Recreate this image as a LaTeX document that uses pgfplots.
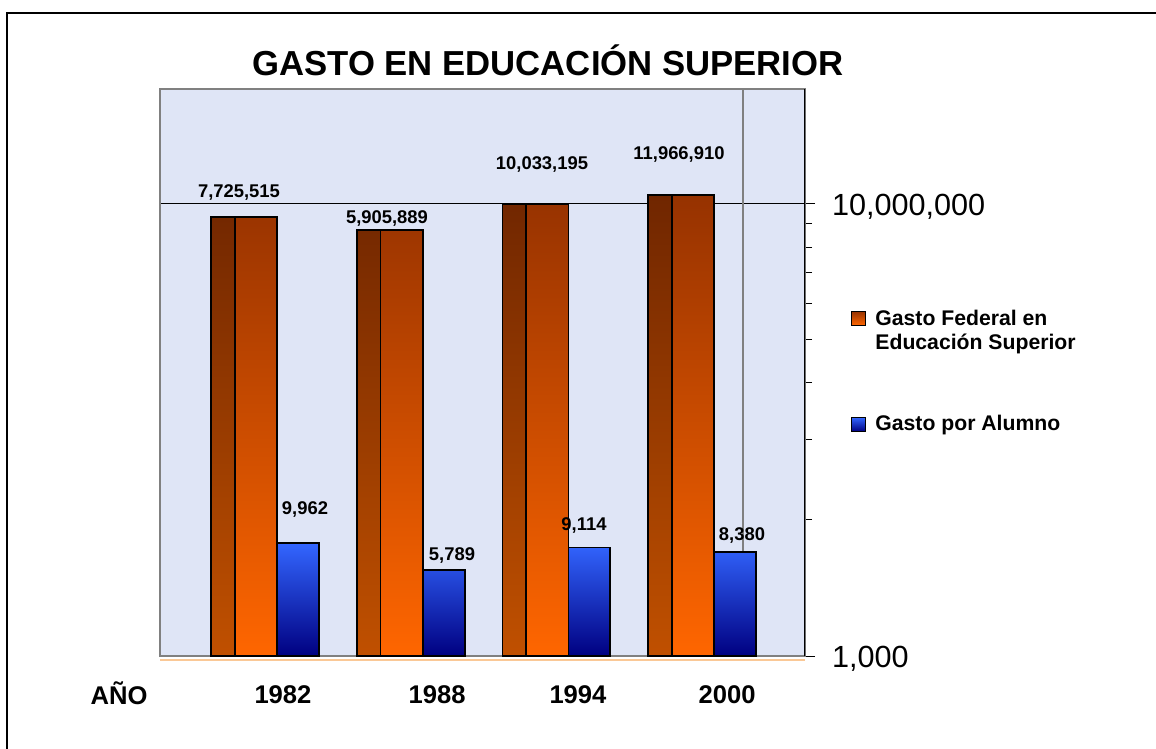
\documentclass[border=0pt]{standalone}
\usepackage{pgfplots}
\pgfplotsset{compat=1.18}
\usepackage{fontspec}
\setmainfont{Liberation Sans}
\definecolor{bgc}{RGB}{223,229,246}
\definecolor{orTop}{RGB}{150,50,0}
\definecolor{orBot}{RGB}{255,102,0}
\definecolor{sdTop}{RGB}{112,38,0}
\definecolor{sdBot}{RGB}{192,80,0}
\definecolor{blTop}{RGB}{51,102,255}
\definecolor{blBot}{RGB}{0,0,128}
\definecolor{peach}{RGB}{250,200,150}
\begin{document}
\begin{tikzpicture}
\useasboundingbox (0,0) rectangle (578pt,-374.5pt);
\draw[line width=1pt] (3.5pt,-374.5pt) -- (3.5pt,-6.5pt) -- (578pt,-6.5pt);
\node[font=\bfseries\fontsize{17.35}{20}\selectfont] at (274pt,-30pt) {GASTO EN EDUCACIÓN SUPERIOR};
\begin{axis}[
  at={(80pt,-328pt)}, anchor=south west,
  scale only axis, width=322.5pt, height=283.5pt,
  ymode=log, ymin=1000, ymax=1.04e8, log origin=infty,
  xmin=-0.8056, xmax=3.6243,
  axis background/.style={fill=bgc},
  axis line style={draw=gray, line width=0.75pt},
  xtick={0.039,1.097,2.065,3.089},
  xticklabels={1982,1988,1994,2000},
  xtick style={draw=none},
  xticklabel style={font=\bfseries\fontsize{12.8}{14}\selectfont, anchor=base, yshift=-19pt},
  ytick={1000,10000000},
  yticklabels={{1,000},{10,000,000}},
  minor ytick={1.6e4,8.16e4,2.62e5,6.35e5,1.32e6,2.47e6,4.10e6,6.75e6},
  ytick pos=right, yticklabel pos=right,
  tick align=outside,
  major tick length=5pt, minor tick length=3.5pt,
  ytick style={draw=black, line width=0.5pt},
  minor tick style={draw=black, line width=0.5pt},
  yticklabel style={font=\fontsize{15.3}{18}\selectfont, anchor=west, xshift=5pt, yshift=-1.5pt},
  ymajorgrids, major grid style={black, line width=0.5pt},
  ybar, legend cell align=left,
  legend style={at={(1.0713,0.6208)}, anchor=north west, draw=none, fill=none, inner sep=0pt,
    font=\bfseries\fontsize{10.6}{12}\selectfont, row sep=39.5pt,
    nodes={inner xsep=4.5pt}},
  legend image code/.code={\draw[#1, draw=black, line width=0.5pt] (0pt,-3.5pt) rectangle (7pt,3.5pt);},
]
\draw[gray, line width=0.75pt] (axis cs:3.198,1000) -- (axis cs:3.198,1.04e8);
\addplot[forget plot, bar width=0.1614, bar shift=-0.3726, draw=black, line width=0.9pt,
  top color=sdTop, bottom color=sdBot]
  coordinates {(0,7725515) (1,5905889) (2,10033195) (3,11966910)};
\addplot[bar width=0.2919, bar shift=-0.1459, draw=black, line width=0.9pt,
  top color=orTop, bottom color=orBot]
  coordinates {(0,7725515) (1,5905889) (2,10033195) (3,11966910)};
\addplot[bar width=0.2864, bar shift=0.1432, draw=black, line width=0.9pt,
  top color=blTop, bottom color=blBot]
  coordinates {(0,9962) (1,5789) (2,9114) (3,8380)};
\legend{{\begin{tabular}[t]{@{}l@{}}Gasto Federal en\\Educación Superior\end{tabular}},{Gasto por Alumno}}
\draw[black, line width=0.75pt] (rel axis cs:1,0) -- (rel axis cs:1,1);
\end{axis}
\draw[peach, line width=1pt] (80pt,-330pt) -- (402.5pt,-330pt);
\node[font=\bfseries\fontsize{12.8}{14}\selectfont] at (59.5pt,-346.5pt) {AÑO};
\begin{scope}[every node/.style={font=\bfseries\fontsize{9.2}{11}\selectfont}]
\node at (119.5pt,-96.5pt) {7,725,515};
\node at (193.5pt,-109pt) {5,905,889};
\node at (271pt,-82.5pt) {10,033,195};
\node at (339.5pt,-77.5pt) {11,966,910};
\node at (152.5pt,-254.5pt) {9,962};
\node at (226pt,-277.5pt) {5,789};
\node at (292pt,-262.5pt) {9,114};
\node at (371pt,-267.5pt) {8,380};
\end{scope}
\end{tikzpicture}
\end{document}
